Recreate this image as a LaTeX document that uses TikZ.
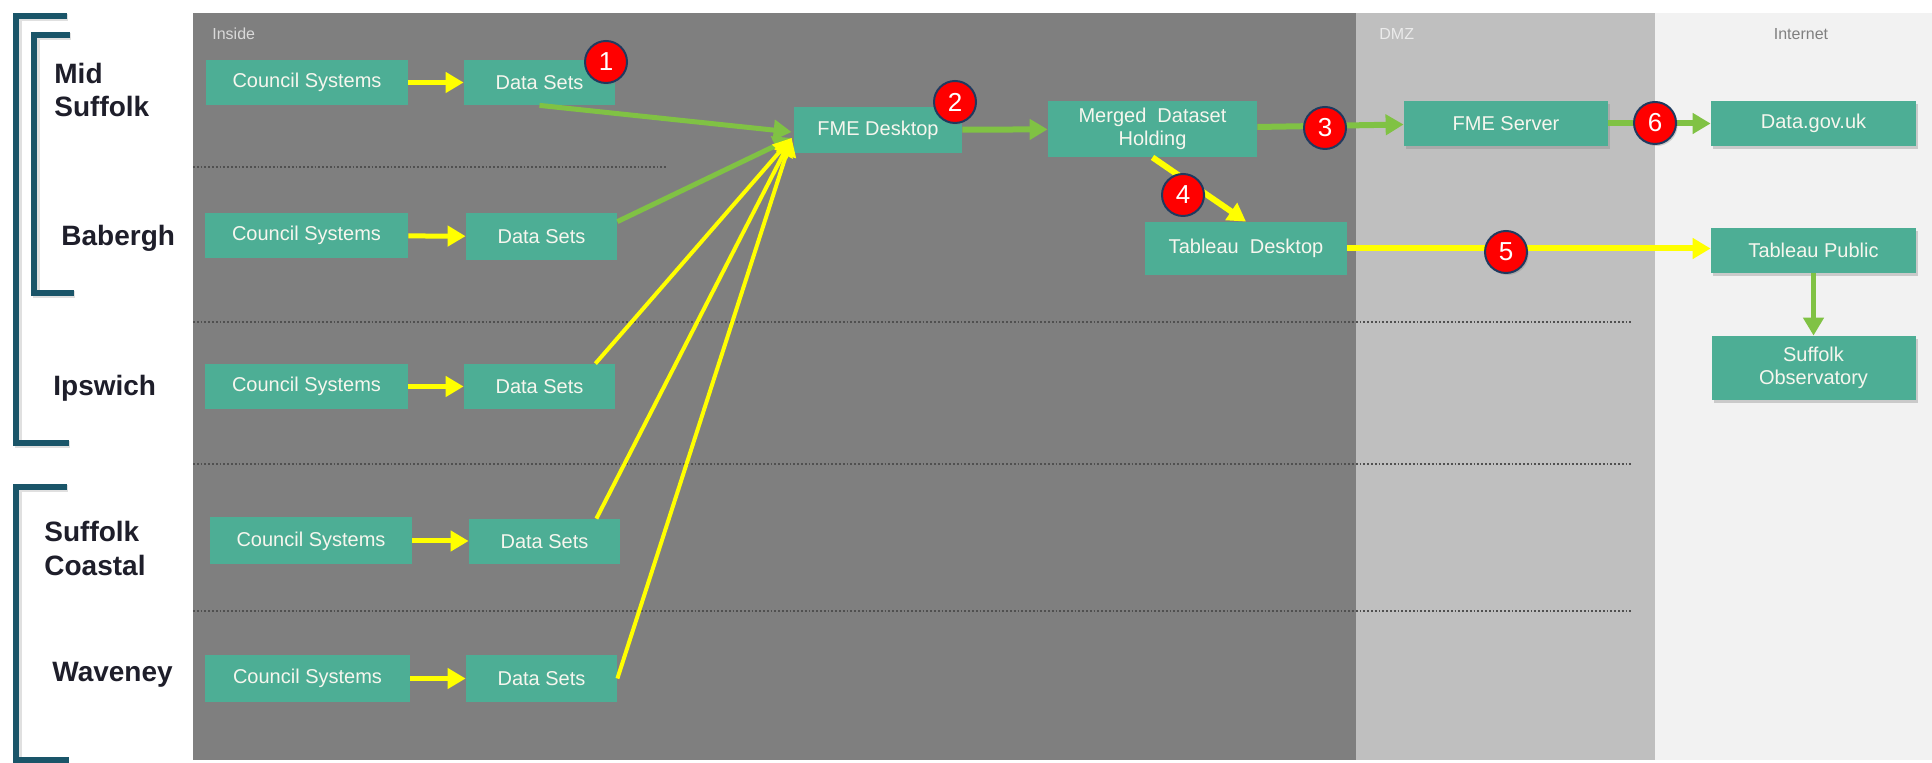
\documentclass[tikz,border=0pt]{standalone}
\usepackage{fontspec}
\setmainfont{Liberation Sans}
\usetikzlibrary{arrows.meta,shadows,calc}
\definecolor{boxc}{HTML}{4DAE95}
\definecolor{boxtext}{HTML}{F6F6EE}
\definecolor{insidec}{HTML}{7F7F7F}
\definecolor{dmzc}{HTML}{BFBFBF}
\definecolor{netc}{HTML}{F2F2F2}
\definecolor{grn}{HTML}{80C244}
\definecolor{yel}{HTML}{FFFF00}
\definecolor{brk}{HTML}{1A5569}
\definecolor{navy}{HTML}{1F3A5F}
\definecolor{labc}{HTML}{1E1E2A}
\definecolor{dotc}{HTML}{505050}
\begin{document}
\begin{tikzpicture}[x=0.5pt,y=-0.5pt,
  box/.style={fill=boxc, text=boxtext, font=\fontsize{10}{11.5}\selectfont, inner sep=0pt, align=center,
    drop shadow={shadow xshift=1pt,shadow yshift=-1.5pt,opacity=0.35}},
  badge/.style={circle, fill=red, draw=navy, line width=1pt, minimum size=21pt, inner sep=0pt,
    text=white, font=\fontsize{13}{13}\selectfont,
    drop shadow={shadow xshift=0.8pt,shadow yshift=-1pt,opacity=0.35}},
  region/.style={anchor=west, inner sep=0pt, align=left, text=labc, font=\bfseries\fontsize{14}{17}\selectfont},
  zone/.style={anchor=west, inner sep=0pt, font=\fontsize{8}{9}\selectfont},
  sep/.style={draw=dotc, densely dotted, line width=0.9pt},
  bracket/.style={draw=brk, line width=3pt, line join=miter},
  bshadow/.style={draw=black, opacity=0.12, line width=3.5pt, line join=miter},
  garrow/.style={draw=grn, line width=2.5pt, -{Triangle[length=9pt,width=10pt]}},
  yarrow/.style={draw=yel, line width=2.5pt, -{Triangle[length=9pt,width=10pt]}},
  ythin/.style={draw=yel, line width=2pt, -{Triangle[length=9pt,width=10pt]}}
]
\useasboundingbox (0,0) rectangle (1932,763);
\fill[white] (0,0) rectangle (1932,763);
% zones
\fill[insidec] (193,13) rectangle (1356,760);
\fill[dmzc] (1356,13) rectangle (1655,760);
\fill[netc] (1655,13) rectangle (1932,760);
\node[zone, text=black!15] (zin) at (212,34) {Inside};
\node[zone, text=black!8] (zdmz) at (1379,34) {DMZ};
\node[zone, anchor=center, text=black!50] (znet) at (1801,34) {Internet};
% separators
\draw[sep] (193,167) -- (667,167);
\draw[sep] (193,322) -- (1632,322);
\draw[sep] (193,464) -- (1632,464);
\draw[sep] (193,611) -- (1632,611);
% brackets
\draw[bshadow] (68,18) -- (18,18) -- (18,445) -- (70,445);
\draw[bracket] (67,16) -- (16,16) -- (16,443) -- (69,443);
\draw[bshadow] (71,37) -- (36,37) -- (36,295) -- (75,295);
\draw[bracket] (70,35) -- (34,35) -- (34,293) -- (74,293);
\draw[bshadow] (68,489) -- (18,489) -- (18,763);
\draw[bracket] (67,487) -- (16,487) -- (16,760) -- (69,760);
% region labels
\node[region] (lms) at (54,90) {Mid\\Suffolk};
\node[region] (lba) at (61,238) {Babergh};
\node[region] (lip) at (53,388) {Ipswich};
\node[region] (lsc) at (44,548) {Suffolk\\Coastal};
\node[region] (lwa) at (52,675) {Waveney};
% boxes
\node[box, minimum width=101pt, minimum height=22.5pt] (cs1) at (307,82.5) {Council Systems};
\node[box, minimum width=75.5pt, minimum height=22.5pt] (ds1) at (539.5,82.5) {Data Sets};
\node[box, minimum width=101.5pt, minimum height=22.5pt] (cs2) at (306.5,235.5) {Council Systems};
\node[box, minimum width=75.5pt, minimum height=23.5pt] (ds2) at (541.5,236.5) {Data Sets};
\node[box, minimum width=101.5pt, minimum height=22.5pt] (cs3) at (306.5,386.5) {Council Systems};
\node[box, minimum width=75.5pt, minimum height=22.5pt] (ds3) at (539.5,386.5) {Data Sets};
\node[box, minimum width=101pt, minimum height=23.5pt] (cs4) at (311,541) {Council Systems};
\node[box, minimum width=75.5pt, minimum height=22.5pt] (ds4) at (544.5,541.5) {Data Sets};
\node[box, minimum width=102.5pt, minimum height=23.5pt] (cs5) at (307.5,678.5) {Council Systems};
\node[box, minimum width=75.5pt, minimum height=23.5pt] (ds5) at (541.5,678.5) {Data Sets};
\node[box, minimum width=84pt, minimum height=23pt] (fme) at (878,130) {FME Desktop};
\node[box, minimum width=104.5pt, minimum height=28pt] (mdh) at (1152.5,129) {Merged\ \ Dataset\\Holding};
\node[box, minimum width=101pt, minimum height=26.5pt] (tbd) at (1246,248.5) {Tableau\ \ Desktop};
\node[box, minimum width=102pt, minimum height=22.5pt] (fms) at (1506,123.5) {FME Server};
\node[box, minimum width=102.5pt, minimum height=22.5pt] (dgu) at (1813.5,123.5) {Data.gov.uk};
\node[box, minimum width=102.5pt, minimum height=22.5pt] (tbp) at (1813.5,250.5) {Tableau Public};
\node[box, minimum width=102pt, minimum height=32pt] (sob) at (1813.5,368) {Suffolk\\Observatory};
% connectors
\draw[yarrow] (cs1) -- (ds1);
\draw[yarrow] (cs2) -- (ds2);
\draw[yarrow] (cs3) -- (ds3);
\draw[yarrow] (cs4.east) -- (cs4.east -| ds4.west);
\draw[yarrow] (cs5) -- (ds5);
\draw[garrow] (ds1.south) -- ([xshift=-1pt,yshift=-1pt]fme.west);
\draw[garrow] ([yshift=-4.5pt]ds2.north east) -- ([xshift=-1pt,yshift=-4pt]fme.west);
\draw[ythin] ([xshift=-10pt]ds3.north east) -- ([xshift=-1pt,yshift=-4pt]fme.west);
\draw[ythin] ([xshift=-12pt]ds4.north east) -- ([xshift=-1pt,yshift=-4pt]fme.west);
\draw[ythin] (ds5.east) -- ([xshift=-1pt,yshift=-4pt]fme.west);
\draw[garrow, line width=3pt] (fme) -- (mdh);
\draw[garrow, line width=3pt] ([yshift=1pt]mdh.east) -- ([yshift=-0.5pt]fms.west);
\draw[garrow, line width=3pt] (fms) -- (dgu);
\draw[yarrow, line width=3pt] (mdh.south) -- (tbd.north);
\draw[yarrow, line width=3pt] (tbd.east) -- (tbd.east -| tbp.west);
\draw[garrow] (tbp) -- (sob);
% badges
\node[badge] (b1) at (606,62) {1};
\node[badge] (b2) at (955,102) {2};
\node[badge] (b3) at (1325,128) {3};
\node[badge] (b4) at (1183,195) {4};
\node[badge] (b5) at (1506,252) {5};
\node[badge] (b6) at (1655,123) {6};
\end{tikzpicture}
\end{document}
